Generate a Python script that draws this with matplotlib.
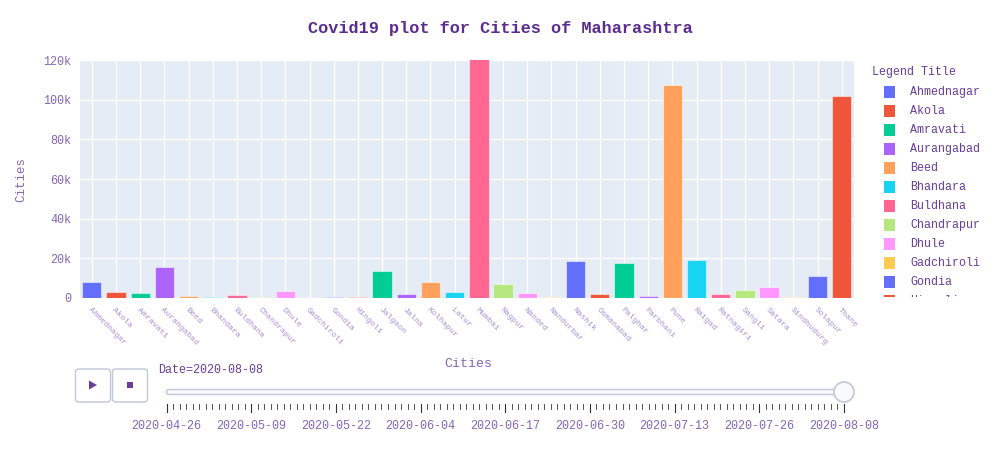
"""
Covid19 plot for Cities of Maharashtra (2020-08-08 frame).

Plotly 風の棒グラフ + 凡例 + アニメーション用スライダーを matplotlib で再現する。
"""

import matplotlib.pyplot as plt
import pandas as pd
from matplotlib.patches import Circle, FancyBboxPatch, Polygon, Rectangle
from matplotlib.ticker import FuncFormatter

plt.rcParams["font.family"] = ["Liberation Mono", "DejaVu Sans Mono"]

cities = [
    "Ahmednagar", "Akola", "Amravati", "Aurangabad", "Beed", "Bhandara",
    "Buldhana", "Chandrapur", "Dhule", "Gadchiroli", "Gondia", "Hingoli",
    "Jalgaon", "Jalna", "Kolhapur", "Latur", "Mumbai", "Nagpur", "Nanded",
    "Nandurbar", "Nashik", "Osmanabad", "Palghar", "Parbhani", "Pune",
    "Raigad", "Ratnagiri", "Sangli", "Satara", "Sindhudurg", "Solapur", "Thane",
]
cases = [
    7900, 2800, 2600, 15600, 1100, 400, 1600, 700, 3600, 200, 300, 700,
    13500, 2100, 7900, 3100, 122000, 7300, 2600, 500, 18900, 1800, 17700,
    900, 107300, 19400, 1900, 4100, 5300, 300, 11000, 102000,
]

palette = ["#636EFA", "#EF553B", "#00CC96", "#AB63FA", "#FFA15A",
           "#19D3F3", "#FF6692", "#B6E880", "#FF97FF", "#FECB52"]

slider_start = "2020-04-26"
slider_end = "2020-08-08"
slider_labels = ["2020-04-26", "2020-05-09", "2020-05-22", "2020-06-04",
                 "2020-06-17", "2020-06-30", "2020-07-13", "2020-07-26",
                 "2020-08-08"]

TITLE_C = "#5c2d91"
TEXT_C = "#6a3d9a"
TICK_C = "#8366b8"
XTICK_C = "#a692d2"
BG = "#E5ECF6"

colors = [palette[i % len(palette)] for i in range(len(cities))]

fig = plt.figure(figsize=(10, 4.5), dpi=100)

# --- main bar chart ---
ax = fig.add_axes([0.0797, 1 - 298 / 450, 0.7741, (298 - 60) / 450])
ax.set_facecolor(BG)
x = range(len(cities))
ax.bar(x, cases, width=0.8, color=colors, edgecolor=(1, 1, 1, 0.5),
       linewidth=0.8, zorder=3)
ax.set_xlim(-0.5, len(cities) - 0.5)
ax.set_ylim(0, 120000)
ax.set_yticks(range(0, 120001, 20000))
ax.yaxis.set_major_formatter(
    FuncFormatter(lambda v, _: "0" if v == 0 else f"{int(v / 1000)}k"))
ax.set_xticks(list(x))
ax.set_xticklabels(cities, rotation=-45, ha="left", va="top",
                   rotation_mode="anchor", fontsize=6, color=XTICK_C)
ax.tick_params(axis="x", length=0, pad=6)
ax.tick_params(axis="y", length=0, pad=6, labelsize=8.5, labelcolor=TICK_C)
ax.grid(True, color="white", linewidth=1.0, zorder=0)
for s in ax.spines.values():
    s.set_visible(False)
ax.set_axisbelow(True)

fig.text(0.468, 1 - 364 / 450, "Cities", ha="center", va="center",
         fontsize=9.5, color=TICK_C)
fig.text(0.021, 1 - 179 / 450, "Cities", ha="center", va="center",
         rotation=90, fontsize=9, color=TICK_C)
fig.text(0.5, 1 - 29 / 450, "Covid19 plot for Cities of Maharashtra",
         ha="center", va="center", fontsize=12.2, fontweight="bold",
         color=TITLE_C)

# --- legend (scrollable area, clipped like plotly) ---
fig.text(0.872, 1 - 72 / 450, "Legend Title", ha="left", va="center",
         fontsize=8.4, color=TEXT_C)
lax = fig.add_axes([0.86, 1 - 297 / 450, 0.14, (297 - 80) / 450])
lax.set_xlim(860, 1000)
lax.set_ylim(297, 80)
lax.axis("off")
for i, (name, c) in enumerate(zip(cities, colors)):
    yc = 91.7 + 19 * i
    if yc > 310:
        break
    lax.add_patch(Rectangle((883.5, yc - 6), 11.5, 12, facecolor=c,
                            edgecolor="none", clip_on=True))
    t = lax.text(910, yc, name, ha="left", va="center", fontsize=8.4,
                 color=TEXT_C)
    t.set_clip_on(True)

# --- animation slider ---
sax = fig.add_axes([0, 0, 1, 1], zorder=-1)
sax.set_xlim(0, 1000)
sax.set_ylim(450, 0)
sax.axis("off")

border = "#bec8d9"
for x0 in (75.5, 112.5):
    sax.add_patch(FancyBboxPatch((x0 + 2, 371), 31, 29,
                                 boxstyle="round,pad=2,rounding_size=3",
                                 facecolor="white", edgecolor=border,
                                 linewidth=1))
sax.add_patch(Polygon([(89, 380.5), (89, 389.5), (97, 385)], closed=True,
                      facecolor=TEXT_C, edgecolor="none"))
sax.add_patch(Rectangle((127, 382), 6, 6, facecolor=TEXT_C,
                        edgecolor="none"))

x_left, x_right = 166.5, 844.0
sax.add_patch(FancyBboxPatch((x_left, 389.5), x_right - x_left, 5,
                             boxstyle="round,pad=0,rounding_size=2.5",
                             facecolor="#f8f9fb", edgecolor=border,
                             linewidth=1))
sax.add_patch(Circle((x_right, 392), 10, facecolor="#f8fafc",
                     edgecolor=border, linewidth=1.2, zorder=5))
sax.text(158, 370, "Date=" + slider_end, ha="left", va="center",
         fontsize=8.4, color=TEXT_C)

days = pd.date_range(slider_start, slider_end, freq="D")
step = (x_right - x_left) / (len(days) - 1)
for i, d in enumerate(days):
    xt = x_left + i * step
    lbl = d.strftime("%Y-%m-%d")
    major = lbl in slider_labels
    sax.plot([xt, xt], [403.5, 412 if major else 409], color="#333333",
             linewidth=0.8 if major else 0.6)
    if major:
        sax.text(xt, 426, lbl, ha="center", va="center", fontsize=8.5,
                 color=TICK_C)

fig.savefig("out.png", dpi=100)
plt.close(fig)
